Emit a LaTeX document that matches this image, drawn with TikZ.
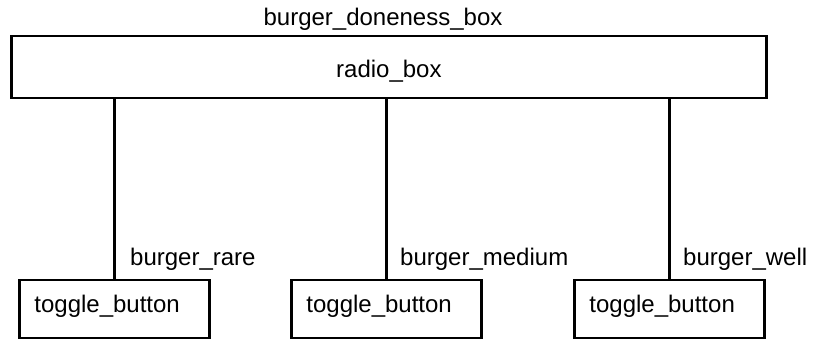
\documentclass[tikz,border=0pt]{standalone}
\usepackage{fontspec}
\setmainfont{Liberation Sans}
\begin{document}
\begin{tikzpicture}[x=1pt,y=-1pt,
widgetfont/.style={font=\fontsize{24}{28}\selectfont},
radiobox/.style={draw,rectangle,line width=2.8pt,widgetfont,inner sep=0pt,text width=755pt,align=center,text height=41pt,text depth=21pt},
togglebox/.style={draw,rectangle,line width=2.8pt,widgetfont,inner xsep=15pt,inner ysep=0pt,text width=160pt,align=left,text height=32pt,text depth=26pt},
widgetname/.style={widgetfont,inner sep=0pt},
link/.style={line width=2.8pt}]
\useasboundingbox (0,0) rectangle (820,341);
\draw (383,25) node[widgetname,anchor=base] (boxname) {burger\_doneness\_box};
\draw (10,77) node[radiobox,anchor=base west] (radio) {radio\_box\hspace*{14pt}};
\draw (18,312) node[togglebox,anchor=base west] (rare) {toggle\_button};
\draw (290,312) node[togglebox,anchor=base west] (medium) {toggle\_button};
\draw (573,312) node[togglebox,anchor=base west] (well) {toggle\_button};
\draw[link] (rare.north) -- (rare.north |- radio.south);
\draw[link] (medium.north) -- (medium.north |- radio.south);
\draw[link] (well.north) -- (well.north |- radio.south);
\draw (130,265) node[widgetname,anchor=base west] (rarename) {burger\_rare};
\draw (400,265) node[widgetname,anchor=base west] (mediumname) {burger\_medium};
\draw (683,265) node[widgetname,anchor=base west] (wellname) {burger\_well};
\end{tikzpicture}
\end{document}
